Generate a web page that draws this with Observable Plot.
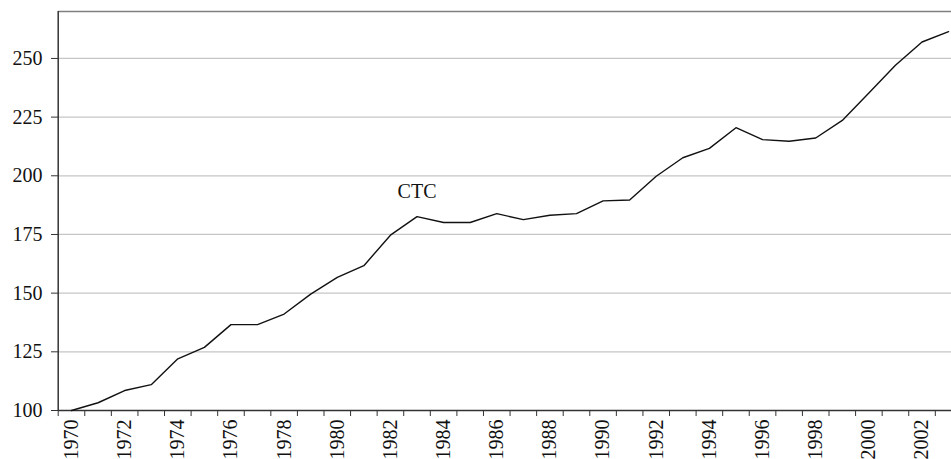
<!DOCTYPE html>
<html><head><meta charset="utf-8">
<script src="https://cdn.jsdelivr.net/npm/d3@7"></script>
<script src="https://cdn.jsdelivr.net/npm/@observablehq/plot@0.6"></script>
<style>html,body{margin:0;padding:0;background:#fff;overflow:hidden} svg{display:block}</style>
</head><body><div id="chart"></div>
<script>
const years = [1970,1971,1972,1973,1974,1975,1976,1977,1978,1979,1980,1981,1982,1983,1984,1985,1986,1987,1988,1989,1990,1991,1992,1993,1994,1995,1996,1997,1998,1999,2000,2001,2002,2003];
const ctc = [100,103.3,108.5,111,122,126.9,136.6,136.6,141.1,149.6,156.7,161.7,174.7,182.6,180.1,180.1,183.9,181.3,183.2,183.9,189.3,189.7,199.8,207.7,211.7,220.5,215.4,214.7,216.1,223.6,235.3,247.1,257,261.4];
const yTicks = [100,125,150,175,200,225,250];
const labelYears = [1970,1972,1974,1976,1978,1980,1982,1984,1986,1988,1990,1992,1994,1996,1998,2000,2002];
const seriesName = "CTC";
const labelYear = 1983;

const data = years.map((year, i) => ({year, value: ctc[i]}));
const boundaries = years.map(y => y - 0.5).concat([years[years.length - 1] + 0.5]);
const yTop = 270;

const chart = Plot.plot({
  width: 951, height: 459,
  marginLeft: 58, marginRight: 0, marginTop: 11, marginBottom: 49,
  style: {fontFamily: '"Liberation Serif", "Times New Roman", serif', fontSize: "20px", color: "#111", background: "#fff"},
  x: {domain: [1969.5, 2003.5], range: [57.7, 961.4]},
  y: {domain: [100, yTop]},
  marks: [
    Plot.gridY(yTicks.filter(t => t > 100), {stroke: "#c6c6c6", strokeOpacity: 1, strokeWidth: 1.2}),
    Plot.ruleY([yTop], {stroke: "#808080", strokeWidth: 1.6}),
    Plot.axisY(yTicks, {tickSize: 7, tickPadding: 9, stroke: "#333", fill: "#111", label: null, fontSize: 20}),
    Plot.ruleY([100], {stroke: "#333", strokeWidth: 1.5}),
    Plot.ruleX([1969.5], {stroke: "#333", strokeWidth: 1.5}),
    Plot.axisX(boundaries, {tickSize: 6, tickFormat: () => "", stroke: "#333", label: null}),
    Plot.axisX(labelYears, {tickSize: 0, tickPadding: 9, tickRotate: -90, tickFormat: d => String(d), fill: "#111", label: null, fontSize: 20}),
    Plot.line(data, {x: "year", y: "value", stroke: "#111", strokeWidth: 1.4}),
    Plot.text(data.filter(d => d.year === labelYear), {x: "year", y: "value", text: () => seriesName, dy: -25, fill: "#111", fontSize: 20})
  ]
});
document.getElementById("chart").append(chart);
</script>
</body></html>
